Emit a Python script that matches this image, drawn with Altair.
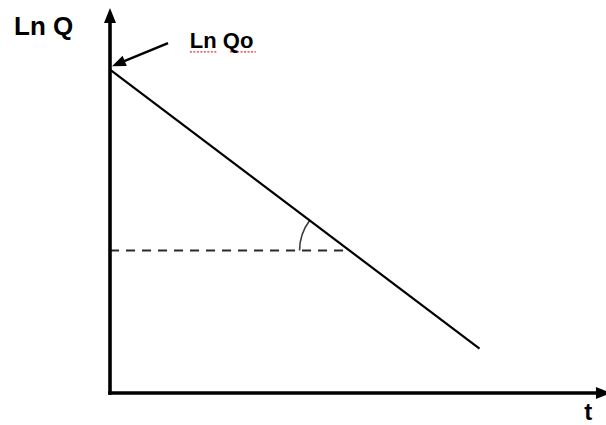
import math
import altair as alt
import pandas as pd

# Plot frame: t and ln Q in arbitrary units
T_MAX = 10.0
LNQ_MAX = 10.0
PLOT_W, PLOT_H = 496, 385

# Decay line: ln Q falls linearly from ln Q0
line_t = [0.0, 7.45]
line_lnq = [8.4, 1.15]

# Horizontal reference level used to mark the slope angle
level_lnq = 3.7
arc_radius = 50

# Axis arrows (tip positions)
y_arrow_tip = [0.0, 10.0]
x_arrow_tip = [10.1, 0.0]

# Leader arrow pointing at ln Q0
leader_start = [1.17, 9.09]
leader_tip = [0.04, 8.49]

# Labels: text, t, ln Q, size, align
labels = ["Ln Q", "Ln Qo", "t"]
label_t = [-1.935, 1.61, 9.64]
label_lnq = [9.30, 8.96, -0.70]
label_size = [26, 22, 24]
label_align = ["left", "left", "center"]

# Spell-check style underline under "Ln" and "Qo"
squiggle_t = [[1.61, 2.16], [2.42, 2.94]]
squiggle_lnq = 8.86

FONT = "Liberation Sans"

xs = alt.Scale(domain=[0, T_MAX], nice=False, zero=False)
ys = alt.Scale(domain=[0, LNQ_MAX], nice=False, zero=False)


def X(field):
    return alt.X(f"{field}:Q", scale=xs, axis=None)


def Y(field):
    return alt.Y(f"{field}:Q", scale=ys, axis=None)


def segments(rows):
    return pd.DataFrame(rows, columns=["t", "q", "t2", "q2"])


# Axes
axes_df = segments([
    [0.0, 0.0, 0.0, y_arrow_tip[1] - 0.2],
    [0.0, 0.0, x_arrow_tip[0] - 0.2, 0.0],
])
axes = alt.Chart(axes_df).mark_rule(color="black", strokeWidth=3.6, strokeCap="square").encode(
    x=X("t"), y=Y("q"), x2="t2", y2="q2"
)

up_head = alt.Chart(pd.DataFrame({"t": [y_arrow_tip[0]], "q": [y_arrow_tip[1]]})).mark_point(
    shape="M0,0L-1,2.5L1,2.5Z", size=144, filled=True, color="black", opacity=1
).encode(x=X("t"), y=Y("q"))

right_head = alt.Chart(pd.DataFrame({"t": [x_arrow_tip[0]], "q": [x_arrow_tip[1]]})).mark_point(
    shape="M0,0L-2.5,-1L-2.5,1Z", size=144, filled=True, color="black", opacity=1
).encode(x=X("t"), y=Y("q"))

# Decay line
decay = alt.Chart(segments([[line_t[0], line_lnq[0], line_t[1], line_lnq[1]]])).mark_rule(
    color="black", strokeWidth=2.2
).encode(x=X("t"), y=Y("q"), x2="t2", y2="q2")

# Dashed level up to where it meets the decay line
slope = (line_lnq[0] - line_lnq[1]) / (line_t[1] - line_t[0])
t_cross = line_t[0] + (line_lnq[0] - level_lnq) / slope
dashed = alt.Chart(segments([[0.0, level_lnq, t_cross, level_lnq]])).mark_rule(
    color="#2a2a2a", strokeWidth=2, strokeDash=[9, 7]
).encode(x=X("t"), y=Y("q"), x2="t2", y2="q2")

# Angle arc between the level and the decay line
px_slope = slope * (PLOT_H / LNQ_MAX) / (PLOT_W / T_MAX)
theta_start = 1.5 * math.pi
theta_end = theta_start + math.atan(px_slope)
arc = alt.Chart(pd.DataFrame({"t": [t_cross], "q": [level_lnq]})).mark_arc(
    innerRadius=arc_radius - 0.8, outerRadius=arc_radius + 0.8,
    theta=theta_start, theta2=theta_end, color="#3a3a3a"
).encode(x=X("t"), y=Y("q"))

# Leader arrow to ln Q0
dx_px = (leader_tip[0] - leader_start[0]) * PLOT_W / T_MAX
dy_px = -(leader_tip[1] - leader_start[1]) * PLOT_H / LNQ_MAX
seg_len = math.hypot(dx_px, dy_px)
back = 6.0 / seg_len
leader_end = [leader_tip[0] - (leader_tip[0] - leader_start[0]) * back,
              leader_tip[1] - (leader_tip[1] - leader_start[1]) * back]
leader = alt.Chart(segments([[leader_start[0], leader_start[1], leader_end[0], leader_end[1]]])).mark_rule(
    color="black", strokeWidth=2.4
).encode(x=X("t"), y=Y("q"), x2="t2", y2="q2")
leader_angle = math.degrees(math.atan2(dy_px, dx_px)) % 360
leader_head = alt.Chart(pd.DataFrame({"t": [leader_tip[0]], "q": [leader_tip[1]]})).mark_point(
    shape="M0,0L-2.5,-1L-2.5,1Z", size=121, filled=True, color="black", opacity=1,
    angle=leader_angle
).encode(x=X("t"), y=Y("q"))

# Red wavy underline
squiggle = alt.Chart(segments([[a, squiggle_lnq, b, squiggle_lnq] for a, b in squiggle_t])).mark_rule(
    color="#e03030", strokeWidth=1.4, strokeDash=[2, 1.5]
).encode(x=X("t"), y=Y("q"), x2="t2", y2="q2")

# Labels
text_layers = []
for txt, t, q, size, align in zip(labels, label_t, label_lnq, label_size, label_align):
    text_layers.append(
        alt.Chart(pd.DataFrame({"t": [t], "q": [q], "label": [txt]})).mark_text(
            font=FONT, fontWeight="bold", fontSize=size, align=align,
            baseline="alphabetic", color="black"
        ).encode(x=X("t"), y=Y("q"), text="label:N")
    )

chart = alt.layer(
    dashed, arc, decay, axes, up_head, right_head, leader, leader_head, squiggle, *text_layers
).properties(
    width=PLOT_W, height=PLOT_H,
    padding={"left": 110, "top": 8, "right": 0, "bottom": 32},
    autosize=alt.AutoSizeParams(type="none"),
    background="white",
).configure_view(stroke=None)

chart.save("out.html", embed_options={"renderer": "svg", "actions": False})
